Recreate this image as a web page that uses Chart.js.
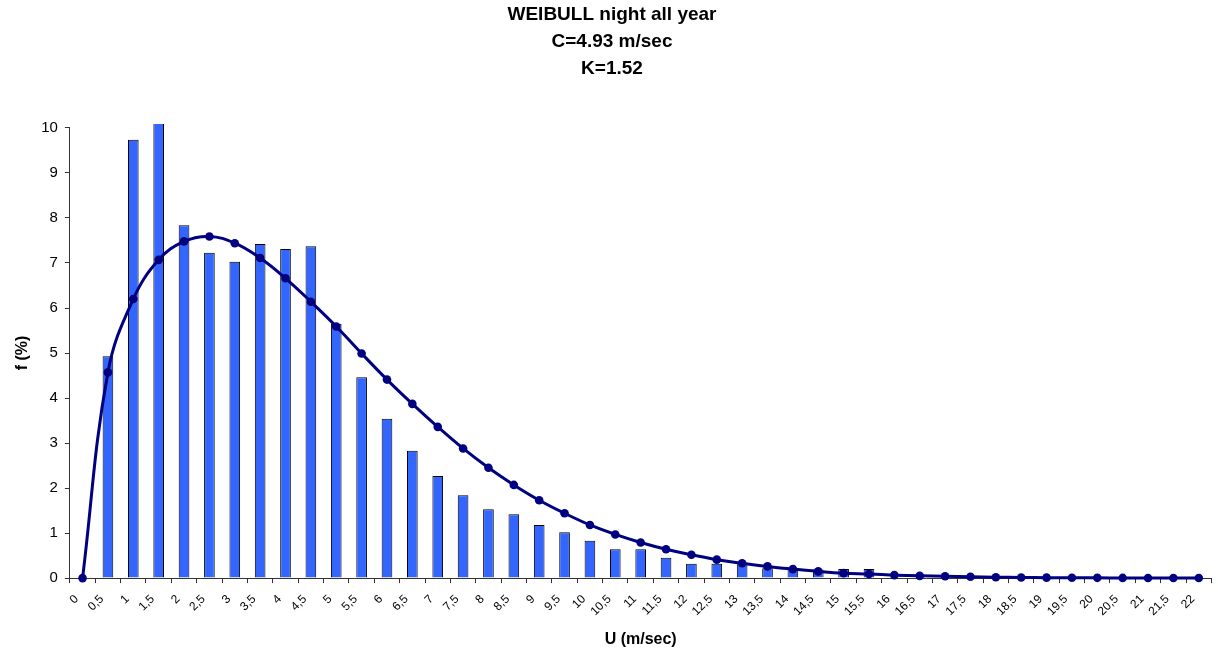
<!DOCTYPE html>
<html>
<head>
<meta charset="utf-8">
<script src="https://cdn.jsdelivr.net/npm/chart.js@4.4.1/dist/chart.umd.min.js"></script>
<style>
  html, body { margin: 0; padding: 0; background: #ffffff; }
  #wrap { width: 1218px; height: 653px; position: relative; }
</style>
</head>
<body>
<div id="wrap"><canvas id="c" width="1218" height="653"></canvas></div>
<script>
// Wind speed classes (m/sec), comma as decimal separator
const speedLabels = ['0','0,5','1','1,5','2','2,5','3','3,5','4','4,5','5','5,5','6','6,5','7','7,5','8','8,5','9','9,5','10','10,5','11','11,5','12','12,5','13','13,5','14','14,5','15','15,5','16','16,5','17','17,5','18','18,5','19','19,5','20','20,5','21','21,5','22'];

// Observed frequency per class (%)
const observedFreq = [0, 4.93, 9.74, 10.4, 7.84, 7.23, 7.03, 7.42, 7.31, 7.37,
  5.65, 4.46, 3.54, 2.83, 2.27, 1.84, 1.53, 1.42, 1.18, 1.02,
  0.83, 0.64, 0.64, 0.45, 0.32, 0.32, 0.31, 0.22, 0.2, 0.19,
  0.2, 0.2, 0, 0, 0, 0, 0, 0, 0, 0,
  0, 0, 0, 0, 0];

// Weibull fit frequency per class (%)
const weibullFreq = [0, 4.57, 6.2, 7.07, 7.48, 7.59, 7.44, 7.11, 6.66, 6.14,
  5.59, 4.99, 4.41, 3.87, 3.36, 2.88, 2.45, 2.07, 1.73, 1.44,
  1.18, 0.97, 0.79, 0.64, 0.52, 0.41, 0.33, 0.26, 0.2, 0.15,
  0.11, 0.09, 0.066, 0.05, 0.04, 0.03, 0.02, 0.015, 0.01, 0.008,
  0.006, 0.004, 0.003, 0.002, 0.001];

const titleLines = ['WEIBULL night all year', 'C=4.93 m/sec', 'K=1.52'];

const FONT = "'Liberation Sans', Arial, sans-serif";
const AXIS_COLOR = '#333333';

new Chart(document.getElementById('c'), {
  data: {
    labels: speedLabels,
    datasets: [
      {
        type: 'line',
        label: 'Weibull',
        data: weibullFreq,
        borderColor: '#000080',
        backgroundColor: '#000080',
        borderWidth: 3,
        pointRadius: 4.3,
        pointBackgroundColor: '#000080',
        pointBorderColor: '#000080',
        pointBorderWidth: 0,
        tension: 0.4,
        clip: false,
        order: 0
      },
      {
        type: 'bar',
        label: 'f',
        data: observedFreq,
        backgroundColor: '#3366FF',
        borderColor: '#000000',
        borderWidth: 1,
        borderSkipped: 'bottom',
        barPercentage: 0.42,
        categoryPercentage: 1.0,
        clip: { left: 0, top: 4, right: 0, bottom: 0 },
        order: 1
      }
    ]
  },
  options: {
    responsive: false,
    animation: false,
    devicePixelRatio: 1,
    layout: { padding: { left: 7, right: 1, top: 0, bottom: 4 } },
    plugins: {
      legend: { display: false },
      tooltip: { enabled: false },
      title: {
        display: true,
        text: titleLines,
        color: '#000000',
        font: { family: FONT, size: 19, weight: 'bold', lineHeight: 1.42 },
        padding: { top: 1, bottom: 46 }
      }
    },
    scales: {
      x: {
        type: 'category',
        offset: true,
        grid: {
          display: true,
          offset: true,
          drawOnChartArea: false,
          drawTicks: true,
          tickLength: 5,
          color: AXIS_COLOR
        },
        border: { display: true, color: AXIS_COLOR, width: 1 },
        ticks: {
          autoSkip: false,
          maxRotation: 45,
          minRotation: 45,
          padding: 9,
          labelOffset: -6,
          color: '#000000',
          font: { family: FONT, size: 12 }
        },
        title: {
          display: true,
          text: 'U (m/sec)',
          color: '#000000',
          font: { family: FONT, size: 16, weight: 'bold' },
          padding: { top: 2, bottom: 0 }
        }
      },
      y: {
        min: 0,
        max: 10,
        grid: {
          display: true,
          drawOnChartArea: false,
          drawTicks: true,
          tickLength: 5,
          color: AXIS_COLOR
        },
        border: { display: true, color: AXIS_COLOR, width: 1 },
        ticks: {
          stepSize: 1,
          padding: 7,
          color: '#000000',
          font: { family: FONT, size: 15 }
        },
        title: {
          display: true,
          text: 'f (%)',
          color: '#000000',
          font: { family: FONT, size: 16, weight: 'bold' },
          padding: { top: 6, bottom: 2 }
        }
      }
    }
  }
});
</script>
</body>
</html>
